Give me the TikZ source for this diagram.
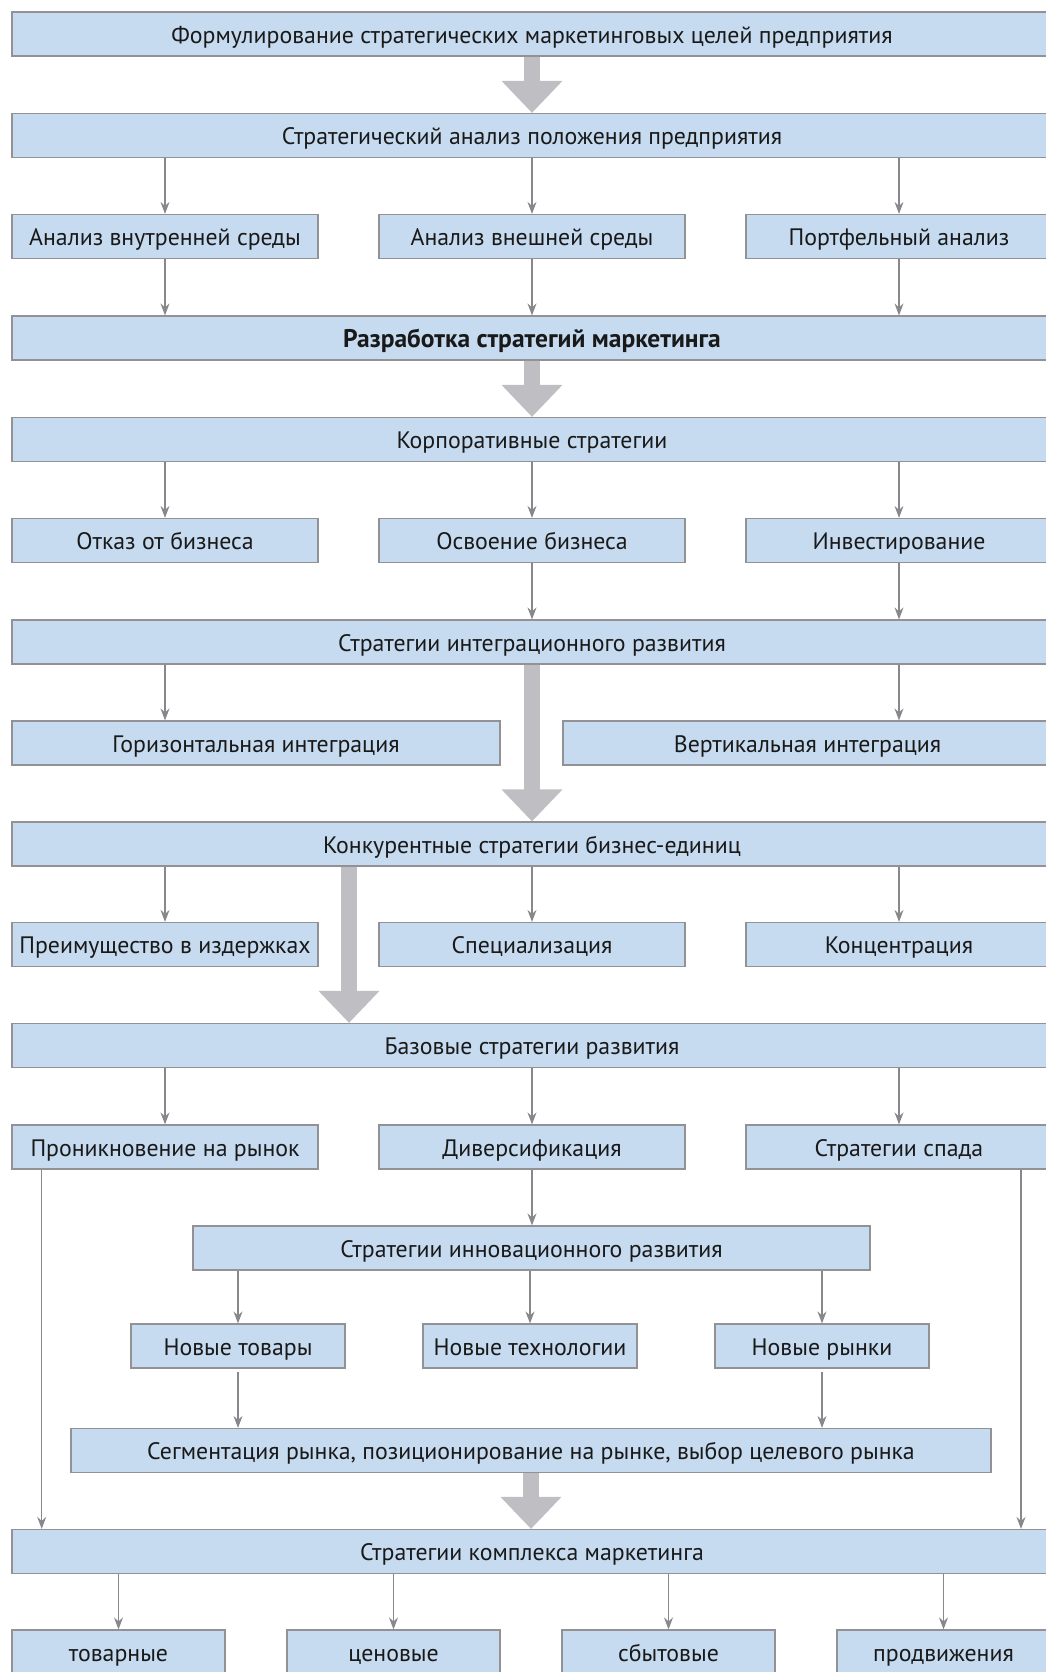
\documentclass[tikz,border=0pt]{standalone}
\usepackage{fontspec}
\setmainfont{PT Sans}
\usetikzlibrary{arrows.meta}
\definecolor{boxfill}{RGB}{198,219,240}
\definecolor{boxline}{RGB}{145,145,150}
\definecolor{arrline}{RGB}{135,135,140}
\definecolor{bigarr}{RGB}{190,190,195}
\begin{document}
\begin{tikzpicture}[x=1pt,y=-1pt,
  box/.style={draw=boxline, line width=1.2pt, fill=boxfill, minimum height=44pt, inner sep=0pt,
    font=\fontsize{23.8}{28}\selectfont, text height=19pt, text depth=0.7pt, text=black!90},
  arr/.style={draw=arrline, line width=1.1pt, -{Stealth[length=12pt,width=9pt,inset=4pt]}},
  bigarrow/.style={draw=bigarr, line width=16pt, -{Triangle[length=32pt,width=59pt]}},
]
\useasboundingbox (0,0) rectangle (1046,1672);
\clip (0,0) rectangle (1046,1672);

\coordinate (lx) at (41.7,0);
\coordinate (rx) at (1021,0);
\coordinate (bx) at (349,0);

% rows
\node[box, minimum width=1040pt] (b1) at (532,34) {Формулирование стратегических маркетинговых целей предприятия};
\node[box, minimum width=1040pt] (b2) at (532,135.5) {Стратегический анализ положения предприятия};
\node[box, minimum width=306pt] (r1a) at (165,236.5) {Анализ внутренней среды};
\node[box, minimum width=306pt] (r1b) at (532,236.5) {Анализ внешней среды};
\node[box, minimum width=306pt] (r1c) at (899,236.5) {Портфельный анализ};
\node[box, minimum width=1040pt, font=\fontsize{25.5}{28}\selectfont\bfseries] (b3) at (532,338) {Разработка стратегий маркетинга};
\node[box, minimum width=1040pt] (b4) at (532,439.5) {Корпоративные стратегии};
\node[box, minimum width=306pt] (r2a) at (165,540.5) {Отказ от бизнеса};
\node[box, minimum width=306pt] (r2b) at (532,540.5) {Освоение бизнеса};
\node[box, minimum width=306pt] (r2c) at (899,540.5) {Инвестирование};
\node[box, minimum width=1040pt] (b5) at (532,642) {Стратегии интеграционного развития};
\node[box, minimum width=488pt] (r3a) at (256,743) {Горизонтальная интеграция};
\node[box, minimum width=489pt] (r3b) at (807.5,743) {Вертикальная интеграция};
\node[box, minimum width=1040pt] (b6) at (532,844) {Конкурентные стратегии бизнес-единиц};
\node[box, minimum width=306pt] (r4a) at (165,944.5) {Преимущество в издержках};
\node[box, minimum width=306pt] (r4b) at (532,944.5) {Специализация};
\node[box, minimum width=306pt] (r4c) at (899,944.5) {Концентрация};
\node[box, minimum width=1040pt] (b7) at (532,1045.5) {Базовые стратегии развития};
\node[box, minimum width=306pt] (r5a) at (165,1147) {Проникновение на рынок};
\node[box, minimum width=306pt] (r5b) at (532,1147) {Диверсификация};
\node[box, minimum width=306pt] (r5c) at (899,1147) {Стратегии спада};
\node[box, minimum width=677pt] (inn) at (531.5,1248) {Стратегии инновационного развития};
\node[box, minimum width=214pt] (r6a) at (238,1346) {Новые товары};
\node[box, minimum width=214pt] (r6b) at (530,1346) {Новые технологии};
\node[box, minimum width=214pt] (r6c) at (822,1346) {Новые рынки};
\node[box, minimum width=920pt] (sg) at (531,1450.5) {Сегментация рынка, позиционирование на рынке, выбор целевого рынка};
\node[box, minimum width=1040pt] (cm) at (532,1551.5) {Стратегии комплекса маркетинга};
\node[box, minimum width=213pt] (q1) at (118.5,1652) {товарные};
\node[box, minimum width=213pt] (q2) at (393.5,1652) {ценовые};
\node[box, minimum width=213pt] (q3) at (668.5,1652) {сбытовые};
\node[box, minimum width=213pt] (q4) at (943.5,1652) {продвижения};

% big arrows
\draw[bigarrow] (b1.south) -- (b2.north);
\draw[bigarrow] (b3.south) -- (b4.north);
\draw[bigarrow] (b5.south) -- (b6.north);
\draw[bigarrow] (b6.south -| bx) -- (b7.north -| bx);
\draw[bigarrow] (sg.south) -- (sg.south |- cm.north);

% small arrows
\foreach \n in {r1a,r1b,r1c} {
  \draw[arr] (b2.south -| \n) -- (\n.north);
  \draw[arr] (\n.south) -- (\n.south |- b3.north);
}
\foreach \n in {r2a,r2b,r2c} \draw[arr] (b4.south -| \n) -- (\n.north);
\draw[arr] (r2b.south) -- (r2b.south |- b5.north);
\draw[arr] (r2c.south) -- (r2c.south |- b5.north);
\draw[arr] (b5.south -| r2a) -- (r3a.north -| r2a);
\draw[arr] (b5.south -| r2c) -- (r3b.north -| r2c);
\foreach \n in {r4a,r4b,r4c} \draw[arr] (b6.south -| \n) -- (\n.north);
\foreach \n in {r5a,r5b,r5c} \draw[arr] (b7.south -| \n) -- (\n.north);
\draw[arr] (r5b.south) -- (r5b.south |- inn.north);
\draw[arr] (r5a.south -| lx) -- (cm.north -| lx);
\draw[arr] (r5c.south -| rx) -- (cm.north -| rx);
\foreach \n in {r6a,r6b,r6c} \draw[arr] (inn.south -| \n) -- (\n.north);
\draw[arr] ([yshift=-3pt]r6a.south) -- (r6a.south |- sg.north);
\draw[arr] ([yshift=-3pt]r6c.south) -- (r6c.south |- sg.north);
\foreach \n in {q1,q2,q3,q4} \draw[arr] (cm.south -| \n) -- (\n.north);
\end{tikzpicture}
\end{document}
